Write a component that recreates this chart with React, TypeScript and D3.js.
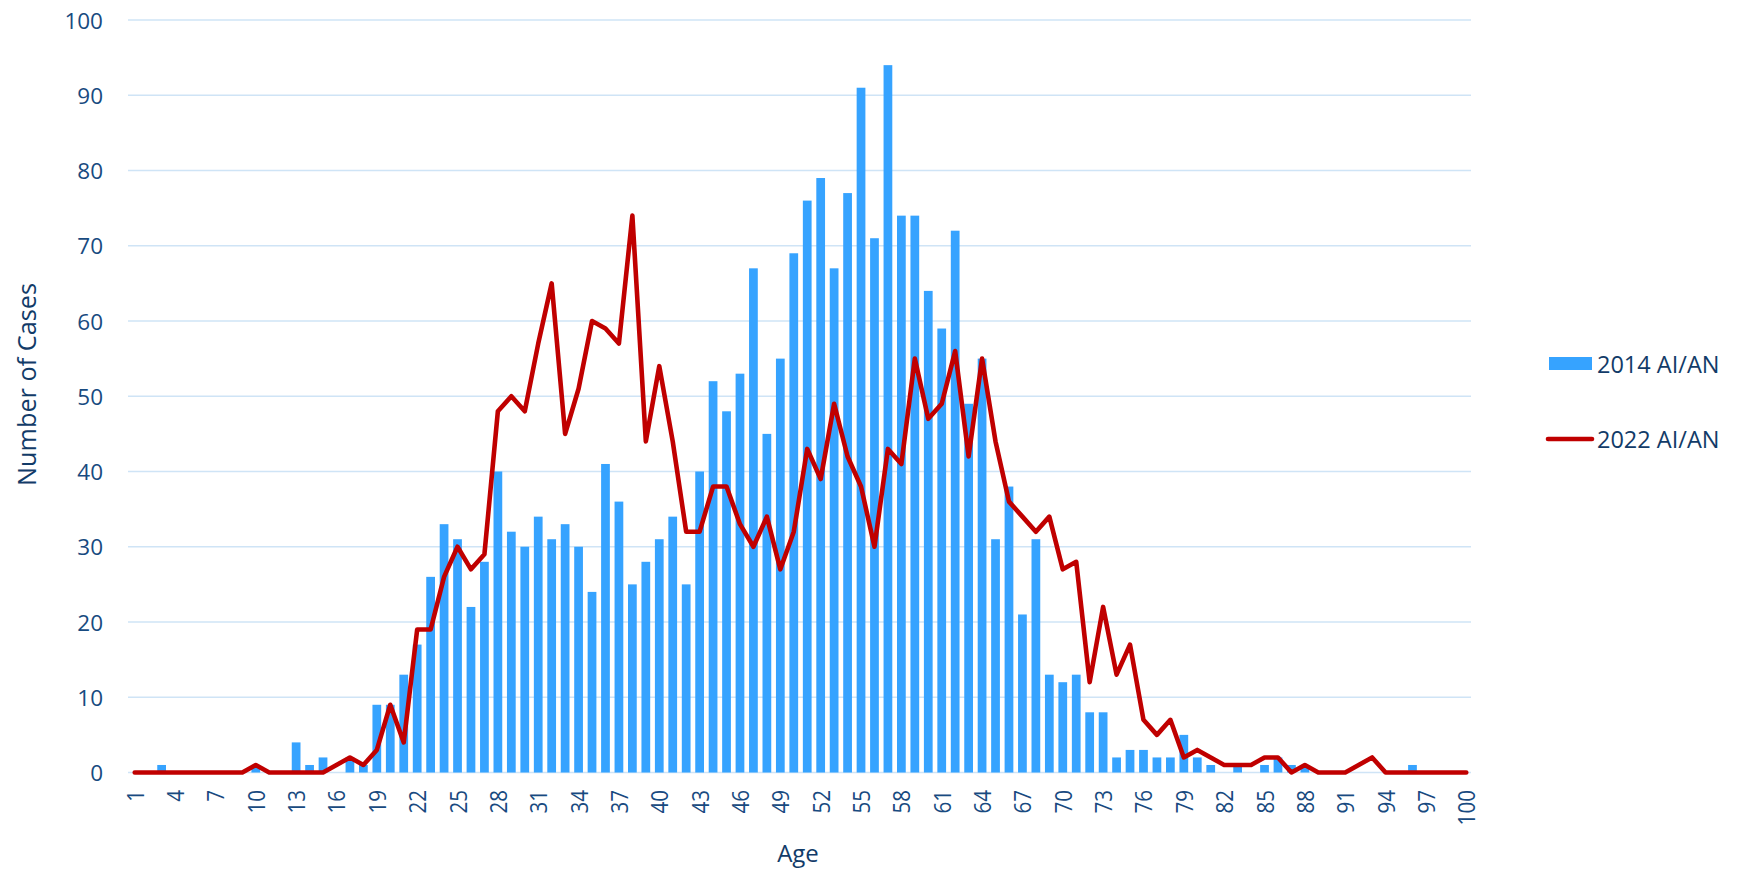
import React, { useEffect } from "react";
import * as d3 from "d3";

const ages: number[] = d3.range(1, 101);

const cases2014: number[] = [
  0, 0, 1, 0, 0, 0, 0, 0, 0, 1,
  0, 0, 4, 1, 2, 0, 2, 1, 9, 9,
  13, 17, 26, 33, 31, 22, 28, 40, 32, 30,
  34, 31, 33, 30, 24, 41, 36, 25, 28, 31,
  34, 25, 40, 52, 48, 53, 67, 45, 55, 69,
  76, 79, 67, 77, 91, 71, 94, 74, 74, 64,
  59, 72, 49, 55, 31, 38, 21, 31, 13, 12,
  13, 8, 8, 2, 3, 3, 2, 2, 5, 2,
  1, 0, 1, 0, 1, 2, 1, 1, 0, 0,
  0, 0, 0, 0, 0, 1, 0, 0, 0, 0,
];

const cases2022: number[] = [
  0, 0, 0, 0, 0, 0, 0, 0, 0, 1,
  0, 0, 0, 0, 0, 1, 2, 1, 3, 9,
  4, 19, 19, 26, 30, 27, 29, 48, 50, 48,
  57, 65, 45, 51, 60, 59, 57, 74, 44, 54,
  44, 32, 32, 38, 38, 33, 30, 34, 27, 32,
  43, 39, 49, 42, 38, 30, 43, 41, 55, 47,
  49, 56, 42, 55, 44, 36, 34, 32, 34, 27,
  28, 12, 22, 13, 17, 7, 5, 7, 2, 3,
  2, 1, 1, 1, 2, 2, 0, 1, 0, 0,
  0, 1, 2, 0, 0, 0, 0, 0, 0, 0,
];

const yTicks: number[] = [0, 10, 20, 30, 40, 50, 60, 70, 80, 90, 100];
const xTickLabels: number[] = ages.filter((a) => (a - 1) % 3 === 0);
const seriesNames: string[] = ["2014 AI/AN", "2022 AI/AN"];

const W = 1737;
const H = 870;
const BAR = "#36a3ff";
const LINE = "#c00000";
const GRID = "#cfe4f6";
const TICK = "#184a80";
const TITLE = "#123b68";
const FONT = "'Open Sans', 'Noto Sans', sans-serif";

export default function App() {
  useEffect(() => {
    document.body.style.margin = "0";
    document.body.style.overflow = "hidden";
  }, []);

  const x = d3
    .scaleBand<number>()
    .domain(ages)
    .range([128, 1473])
    .paddingInner(0.35)
    .paddingOuter(0.175);
  const y = d3.scaleLinear().domain([0, 100]).range([772.5, 20]);
  const bw = x.bandwidth();
  const cx = (a: number) => (x(a) as number) + bw / 2;

  const line = d3
    .line<number>()
    .x((_, i) => cx(ages[i]))
    .y((d) => y(d));

  return (
    <svg
      width={W}
      height={H}
      style={{ position: "absolute", left: 0, top: 0, background: "#fff" }}
      fontFamily={FONT}
    >
      {yTicks.map((t) => (
        <line
          key={"g" + t}
          x1={128}
          x2={1471}
          y1={y(t)}
          y2={y(t)}
          stroke={GRID}
          strokeWidth={1.5}
        />
      ))}
      {yTicks.map((t) => (
        <text
          key={"yt" + t}
          x={103}
          y={y(t)}
          textAnchor="end"
          dominantBaseline="central"
          fontSize={22.5}
          fill={TICK}
        >
          {t}
        </text>
      ))}
      {ages.map((a, i) => (
        <rect
          key={"b" + a}
          x={x(a)}
          y={y(cases2014[i])}
          width={bw}
          height={y(0) - y(cases2014[i])}
          fill={BAR}
        />
      ))}
      <path
        d={line(cases2022) || ""}
        fill="none"
        stroke={LINE}
        strokeWidth={4.6}
        strokeLinejoin="round"
        strokeLinecap="round"
      />
      {xTickLabels.map((a) => {
        const s = String(a);
        return (
          <text
            key={"xt" + a}
            transform={`translate(${cx(a)},790) rotate(-90)`}
            textAnchor="end"
            dominantBaseline="central"
            fontSize={23.5}
            fill={TICK}
            textLength={s.length * 11.8}
            lengthAdjust="spacingAndGlyphs"
          >
            {s}
          </text>
        );
      })}
      <text x={798} y={862} textAnchor="middle" fontSize={24} fill={TITLE}>
        Age
      </text>
      <text
        transform="translate(26,384.5) rotate(-90)"
        textAnchor="middle"
        dominantBaseline="central"
        fontSize={25}
        fill={TITLE}
        textLength={203}
        lengthAdjust="spacingAndGlyphs"
      >
        Number of Cases
      </text>
      <rect x={1549} y={357} width={43} height={13} fill={BAR} />
      <text
        x={1597}
        y={364}
        dominantBaseline="central"
        fontSize={23.5}
        fill={TITLE}
      >
        {seriesNames[0]}
      </text>
      <line
        x1={1548}
        x2={1592}
        y1={439}
        y2={439}
        stroke={LINE}
        strokeWidth={4.6}
        strokeLinecap="round"
      />
      <text
        x={1597}
        y={439}
        dominantBaseline="central"
        fontSize={23.5}
        fill={TITLE}
      >
        {seriesNames[1]}
      </text>
    </svg>
  );
}
